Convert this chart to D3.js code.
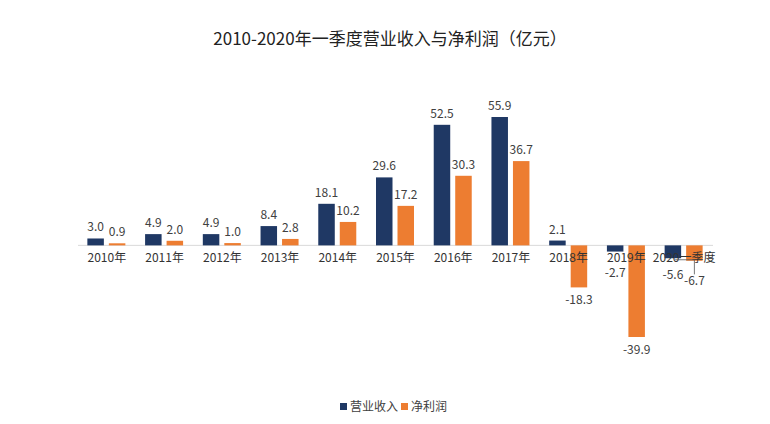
<!DOCTYPE html>
<html><head><meta charset="utf-8">
<script src="https://cdn.jsdelivr.net/npm/d3@7"></script>
<style>body{margin:0;background:#fff;}text{font-family:"Microsoft YaHei","Noto Sans CJK SC","Noto Sans",sans-serif;}</style>
</head><body><svg id="c" width="770" height="424"></svg>
<script>
const categories = ["2010年","2011年","2012年","2013年","2014年","2015年","2016年","2017年","2018年","2019年","2020一季度"];
const revenue = [3.0,4.9,4.9,8.4,18.1,29.6,52.5,55.9,2.1,-2.7,-5.6];
const profit = [0.9,2.0,1.0,2.8,10.2,17.2,30.3,36.7,-18.3,-39.9,-6.7];
const seriesNames = ["营业收入","净利润"];
const colors = ["#1F3864","#ED7D31"];

const svg = d3.select("#c");
const x = d3.scaleBand().domain(categories).range([78,713]);
const y = d3.scaleLinear().domain([-39.9,55.9]).range([337,117]);
const data = categories.map((c,i)=>({c, v:[revenue[i],profit[i]]}));

svg.append("text").attr("x",390).attr("y",45).attr("text-anchor","middle")
  .attr("font-size",17).attr("fill","#222").text("2010-2020年一季度营业收入与净利润（亿元）");

// axis line
svg.append("line").attr("x1",78).attr("x2",713).attr("y1",y(0)).attr("y2",y(0))
  .attr("stroke","#d9d9d9").attr("stroke-width",1);

const barW = 16.5;
const offs = [-19.5, 2];
const g = svg.append("g");
data.forEach((d,i)=>{
  const cx = x(d.c)+x.bandwidth()/2;
  d.v.forEach((v,s)=>{
    g.append("rect").attr("x",cx+offs[s]).attr("width",barW)
      .attr("y",y(Math.max(0,v))).attr("height",Math.abs(y(v)-y(0)))
      .attr("fill",colors[s]);
  });
});

// category labels
const ax = d3.axisBottom(x).tickSize(0).tickPadding(0);
const axg = svg.append("g").attr("transform",`translate(0,${y(0)+8})`).call(ax);
axg.select(".domain").remove();
axg.selectAll("text").attr("font-size",12).attr("fill","#333").attr("dy","0.71em")
  .style("font-family",'"Microsoft YaHei","Noto Sans CJK SC",sans-serif');

// value labels
const last = categories.length-1;
data.forEach((d,i)=>{
  const cx = x(d.c)+x.bandwidth()/2;
  d.v.forEach((v,s)=>{
    const bx = cx+offs[s]+barW/2;
    let ly;
    if (v>=0) ly = y(v)-7;
    else ly = Math.max(y(v)+17, y(0)+32 + (i===last ? (s===1 ? 8 : 2) : 0));
    svg.append("text").attr("x",bx).attr("y",ly).attr("text-anchor","middle")
      .attr("font-size",12).attr("fill","#404040").text(v.toFixed(1));
    if (v<0 && i===last && s===1) {
      svg.append("path").attr("d",`M${cx-9},${y(v)-1}H${bx}V${ly-11}`)
        .attr("fill","none").attr("stroke","#555").attr("stroke-width",0.8);
    }
  });
});

// legend
const leg = svg.append("g").attr("transform","translate(340,407)");
seriesNames.forEach((n,s)=>{
  const lx = s===0?0:61;
  leg.append("rect").attr("x",lx).attr("y",-4).attr("width",7).attr("height",7).attr("fill",colors[s]);
  leg.append("text").attr("x",lx+10).attr("y",4).attr("font-size",12).attr("fill","#404040").text(n);
});
</script></body></html>
